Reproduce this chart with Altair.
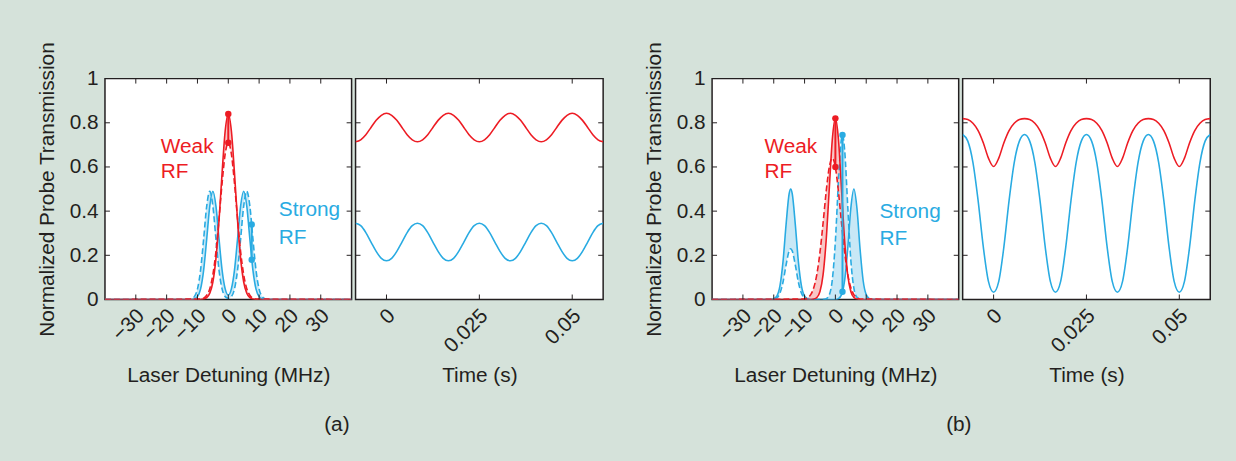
import altair as alt
import pandas as pd

# ---------------- data ----------------
spec_ticks = [-30, -20, -10, 0, 10, 20, 30]
time_ticks = [0, 0.025, 0.05]
y_ticks = [0, 0.2, 0.4, 0.6, 0.8, 1]
inner_y_ticks = [0.2, 0.4, 0.6, 0.8]

# panel (a) spectra, detuning in MHz
det_a_red = [-40, -9, -8, -7, -6, -5, -4, -3, -2, -1, 0, 1, 2, 3, 4, 5, 6, 7, 8, 9, 40]
red_solid_a = [0, 0.000, 0.002, 0.008, 0.028, 0.079, 0.185, 0.359, 0.576, 0.764, 0.840,
               0.764, 0.576, 0.359, 0.185, 0.079, 0.028, 0.008, 0.002, 0.000, 0]
red_dash_a = [0, 0.002, 0.006, 0.019, 0.049, 0.112, 0.217, 0.365, 0.528, 0.659, 0.710,
              0.659, 0.528, 0.365, 0.217, 0.112, 0.049, 0.019, 0.006, 0.002, 0]

det_a_blue = [-40, -13, -12, -11, -10, -9, -8, -7, -6, -5, -4, -3, -2, -1, 0,
              1, 2, 3, 4, 5, 6, 7, 8, 9, 10, 11, 12, 13, 40]
blue_solid_a = [0, 0, 0.000, 0.003, 0.013, 0.047, 0.132, 0.273, 0.423, 0.490, 0.423, 0.273, 0.132, 0.048, 0.020,
                0.048, 0.132, 0.273, 0.423, 0.490, 0.423, 0.273, 0.132, 0.047, 0.013, 0.003, 0.000, 0, 0]
blue_dash_a = [0, 0.000, 0.003, 0.013, 0.047, 0.132, 0.273, 0.423, 0.490, 0.423, 0.273, 0.132, 0.047, 0.013, 0.005,
               0.013, 0.047, 0.132, 0.273, 0.423, 0.490, 0.423, 0.273, 0.132, 0.047, 0.013, 0.003, 0.000, 0]

# panel (b) spectra
det_b_red = [-40, -10, -9, -8, -7, -6, -5, -4, -3, -2, -1, 0, 1, 2, 3, 4, 5, 6, 7, 8, 40]
red_solid_b = [0, 0, 0, 0.000, 0.002, 0.009, 0.036, 0.111, 0.266, 0.497, 0.724, 0.820,
               0.724, 0.497, 0.266, 0.111, 0.036, 0.009, 0.002, 0.000, 0]
red_dash_b = [0, 0.002, 0.008, 0.022, 0.054, 0.115, 0.214, 0.345, 0.487, 0.598, 0.640, 0.598,
              0.487, 0.345, 0.214, 0.115, 0.054, 0.022, 0.008, 0.002, 0]

det_b_blue = [-40, -21, -20, -19, -18, -17, -16, -15, -14.5, -14, -13, -12, -11, -10, -9, -8, -7, -6,
              -5, -4, -3, -2, -1, 0, 1, 2, 2.3, 3, 4, 5, 6, 7, 8, 9, 10, 11, 12, 40]
blue_solid_b = [0, 0, 0.003, 0.015, 0.060, 0.170, 0.339, 0.479, 0.500, 0.479, 0.339, 0.170, 0.060, 0.015,
                0.003, 0, 0, 0, 0, 0, 0, 0, 0, 0, 0.004, 0.022, 0.035, 0.086, 0.229, 0.412, 0.500,
                0.412, 0.229, 0.086, 0.022, 0.004, 0, 0]
blue_dash_b = [0, 0, 0.001, 0.007, 0.028, 0.078, 0.156, 0.220, 0.230, 0.220, 0.156, 0.078, 0.028, 0.007,
               0.001, 0, 0, 0, 0, 0, 0.003, 0.020, 0.089, 0.265, 0.536, 0.732, 0.745, 0.677, 0.424,
               0.180, 0.051, 0.010, 0.001, 0, 0, 0, 0, 0]

# time traces (ms)
time_ms = [-8.333, -6.944, -5.556, -4.167, -2.778, -1.389, 0, 1.389, 2.778, 4.167, 5.556, 6.944,
           8.333, 9.722, 11.111, 12.5, 13.889, 15.278, 16.667, 18.056, 19.444, 20.833, 22.222, 23.611,
           25, 26.389, 27.778, 29.167, 30.556, 31.944, 33.333, 34.722, 36.111, 37.5, 38.889, 40.278,
           41.667, 43.056, 44.444, 45.833, 47.222, 48.611, 50, 51.389, 52.778, 54.167, 55.556, 56.944,
           58.333]
red_time_a = [0.714, 0.723, 0.746, 0.779, 0.811, 0.834, 0.843, 0.834, 0.811, 0.779, 0.746, 0.723,
              0.714, 0.723, 0.746, 0.779, 0.811, 0.834, 0.843, 0.834, 0.811, 0.779, 0.746, 0.723,
              0.714, 0.723, 0.746, 0.779, 0.811, 0.834, 0.843, 0.834, 0.811, 0.779, 0.746, 0.723,
              0.714, 0.723, 0.746, 0.779, 0.811, 0.834, 0.843, 0.834, 0.811, 0.779, 0.746, 0.723,
              0.714]
blue_time_a = [0.345, 0.334, 0.303, 0.260, 0.218, 0.186, 0.175, 0.186, 0.218, 0.260, 0.303, 0.334,
               0.345, 0.334, 0.303, 0.260, 0.218, 0.186, 0.175, 0.186, 0.218, 0.260, 0.303, 0.334,
               0.345, 0.334, 0.303, 0.260, 0.218, 0.186, 0.175, 0.186, 0.218, 0.260, 0.303, 0.334,
               0.345, 0.334, 0.303, 0.260, 0.218, 0.186, 0.175, 0.186, 0.218, 0.260, 0.303, 0.334,
               0.345]
red_time_b = [0.819, 0.815, 0.798, 0.765, 0.710, 0.640, 0.602, 0.640, 0.710, 0.765, 0.798, 0.815,
              0.819, 0.815, 0.798, 0.765, 0.710, 0.640, 0.602, 0.640, 0.710, 0.765, 0.798, 0.815,
              0.819, 0.815, 0.798, 0.765, 0.710, 0.640, 0.602, 0.640, 0.710, 0.765, 0.798, 0.815,
              0.819, 0.815, 0.798, 0.765, 0.710, 0.640, 0.602, 0.640, 0.710, 0.765, 0.798, 0.815,
              0.819]
blue_time_b = [0.747, 0.717, 0.620, 0.448, 0.239, 0.082, 0.033, 0.082, 0.239, 0.448, 0.620, 0.717,
               0.747, 0.717, 0.620, 0.448, 0.239, 0.082, 0.033, 0.082, 0.239, 0.448, 0.620, 0.717,
               0.747, 0.717, 0.620, 0.448, 0.239, 0.082, 0.033, 0.082, 0.239, 0.448, 0.620, 0.717,
               0.747, 0.717, 0.620, 0.448, 0.239, 0.082, 0.033, 0.082, 0.239, 0.448, 0.620, 0.717,
               0.747]

# marker dots (detuning, high value, low value)
dots_a_red = [0, 0.84, 0.71]
dots_a_blue = [7.6, 0.34, 0.18]
dots_b_red = [0, 0.82, 0.60]
dots_b_blue = [2.3, 0.745, 0.035]

# annotations
notes_a = {"x": [-21.9, -21.9, 16.4, 16.4], "y": [0.664, 0.552, 0.377, 0.251],
           "text": ["Weak", "RF", "Strong", "RF"]}
notes_b = {"x": [-23.0, -23.0, 14.3, 14.3], "y": [0.664, 0.552, 0.368, 0.247],
           "text": ["Weak", "RF", "Strong", "RF"]}

# ---------------- style ----------------
BG = "#d5e2da"
RED = "#ed1c24"
BLUE = "#29abe2"
RED_FILL = "#f8c6c6"
BLUE_FILL = "#c8e8f6"
INK = "#231f20"
FONT = "Liberation Sans"
FS = 21
W_SPEC, W_TIME, H = 249, 250, 223
TL = 5  # inward tick length
LW = 1.6

def x_def(field, domain, ticks, title, fmt):
    return alt.X(f"{field}:Q",
                 scale=alt.Scale(domain=domain, nice=False, zero=False),
                 axis=alt.Axis(values=ticks, title=title, format=fmt, labelAngle=-45,
                               labelAlign="right", labelBaseline="middle", labelPadding=13,
                               labelOffset=5, labelOverlap=False, labelFlush=False,
                               titleY=83, titleBaseline="alphabetic"))

def y_def(field, show):
    ax = alt.Axis(values=y_ticks, format=".1~f", title="Normalized Probe Transmission",
                  labelPadding=7, titlePadding=12, labelOverlap=False) if show else None
    return alt.Y(f"{field}:Q", scale=alt.Scale(domain=[0, 1], nice=False, zero=False), axis=ax)

def tick_layers(xticks, X, Y, w):
    tdf = pd.DataFrame({"v": xticks})
    ydf = pd.DataFrame({"v": inner_y_ticks})
    top = alt.Chart(tdf).mark_rule(color=INK, strokeWidth=1).encode(x=X("v"), y=alt.value(0), y2=alt.value(TL))
    bot = alt.Chart(tdf).mark_rule(color=INK, strokeWidth=1).encode(x=X("v"), y=alt.value(H - TL), y2=alt.value(H))
    lef = alt.Chart(ydf).mark_rule(color=INK, strokeWidth=1).encode(y=Y("v"), x=alt.value(0), x2=alt.value(TL))
    rig = alt.Chart(ydf).mark_rule(color=INK, strokeWidth=1).encode(y=Y("v"), x=alt.value(w - TL), x2=alt.value(w))
    return [top, bot, lef, rig]

def spec_panel(dr, rs, rd, db, bs, bd, dred, dblue, notes, show_y):
    X = lambda f: x_def(f, [-40, 40], spec_ticks, "Laser Detuning (MHz)", "d")
    Y = lambda f: y_def(f, show_y)
    rdf = pd.DataFrame({"d": dr, "solid": rs, "dash": rd})
    bdf = pd.DataFrame({"d": db, "solid": bs, "dash": bd})
    ddf = pd.DataFrame({"d": [dred[0], dred[0], dblue[0], dblue[0]],
                        "v": [dred[1], dred[2], dblue[1], dblue[2]],
                        "c": [RED, RED, BLUE, BLUE]})
    cdf = pd.DataFrame({"d": [dred[0], dblue[0]], "hi": [dred[1], dblue[1]],
                        "lo": [dred[2], dblue[2]], "c": [RED, BLUE]})
    ndf = pd.DataFrame(notes)
    ndf["c"] = [RED, RED, BLUE, BLUE]
    layers = [
        alt.Chart(bdf).mark_area(color=BLUE_FILL, interpolate="monotone", clip=True)
            .encode(x=X("d"), y=Y("solid"), y2=alt.Y2("dash")),
        alt.Chart(rdf).mark_area(color=RED_FILL, interpolate="monotone", clip=True)
            .encode(x=X("d"), y=Y("solid"), y2=alt.Y2("dash")),
        alt.Chart(bdf).mark_line(color=BLUE, strokeWidth=LW, strokeDash=[6, 3], interpolate="monotone", clip=True)
            .encode(x=X("d"), y=Y("dash")),
        alt.Chart(bdf).mark_line(color=BLUE, strokeWidth=LW, interpolate="monotone", clip=True)
            .encode(x=X("d"), y=Y("solid")),
        alt.Chart(rdf).mark_line(color=RED, strokeWidth=LW, strokeDash=[6, 3], interpolate="monotone", clip=True)
            .encode(x=X("d"), y=Y("dash")),
        alt.Chart(rdf).mark_line(color=RED, strokeWidth=LW, interpolate="monotone", clip=True)
            .encode(x=X("d"), y=Y("solid")),
        alt.Chart(cdf).mark_rule(strokeWidth=2)
            .encode(x=X("d"), y=Y("hi"), y2=alt.Y2("lo"), color=alt.Color("c:N", scale=None)),
        alt.Chart(ddf).mark_point(filled=True, size=42, opacity=1)
            .encode(x=X("d"), y=Y("v"), color=alt.Color("c:N", scale=None)),
        alt.Chart(ndf).mark_text(align="left", baseline="alphabetic", fontSize=21, font=FONT)
            .encode(x=X("x"), y=Y("y"), text="text:N", color=alt.Color("c:N", scale=None)),
    ] + tick_layers(spec_ticks, X, Y, W_SPEC)
    return alt.layer(*layers).properties(width=W_SPEC, height=H)

def time_panel(red, blue):
    X = lambda f: x_def(f, [-0.00833, 0.05833], time_ticks, "Time (s)", ".3~f")
    Y = lambda f: y_def(f, False)
    df = pd.DataFrame({"t": [v / 1000 for v in time_ms], "red": red, "blue": blue})
    layers = [
        alt.Chart(df).mark_line(color=BLUE, strokeWidth=LW, interpolate="monotone", clip=True)
            .encode(x=X("t"), y=Y("blue")),
        alt.Chart(df).mark_line(color=RED, strokeWidth=LW, interpolate="monotone", clip=True)
            .encode(x=X("t"), y=Y("red")),
    ] + tick_layers(time_ticks, X, Y, W_TIME)
    return alt.layer(*layers).properties(width=W_TIME, height=H)

spec_a = spec_panel(det_a_red, red_solid_a, red_dash_a, det_a_blue, blue_solid_a, blue_dash_a,
                    dots_a_red, dots_a_blue, notes_a, True)
spec_b = spec_panel(det_b_red, red_solid_b, red_dash_b, det_b_blue, blue_solid_b, blue_dash_b,
                    dots_b_red, dots_b_blue, notes_b, True)
time_a = time_panel(red_time_a, blue_time_a)
time_b = time_panel(red_time_b, blue_time_b)

group_a = alt.hconcat(spec_a, time_a, spacing=0).properties(
    title=alt.TitleParams("(a)", orient="bottom", anchor="middle", offset=28, dx=17))
group_b = alt.hconcat(spec_b, time_b, spacing=0).properties(
    title=alt.TitleParams("(b)", orient="bottom", anchor="middle", offset=28, dx=32))

chart = (
    alt.hconcat(group_a, group_b, spacing=38)
    .properties(background=BG, padding={"left": 36, "top": 38, "right": 24, "bottom": 54})
    .configure_view(stroke=INK, strokeWidth=1.5, fill="white")
    .configure_axis(grid=False, domain=False, ticks=False, labelFont=FONT, titleFont=FONT,
                    labelFontSize=FS, titleFontSize=FS, labelColor=INK, titleColor=INK,
                    titleFontWeight="normal")
    .configure_title(font=FONT, fontSize=FS, color=INK, fontWeight="normal")
)

chart.save("out.html", embed_options={"renderer": "svg", "actions": False})
